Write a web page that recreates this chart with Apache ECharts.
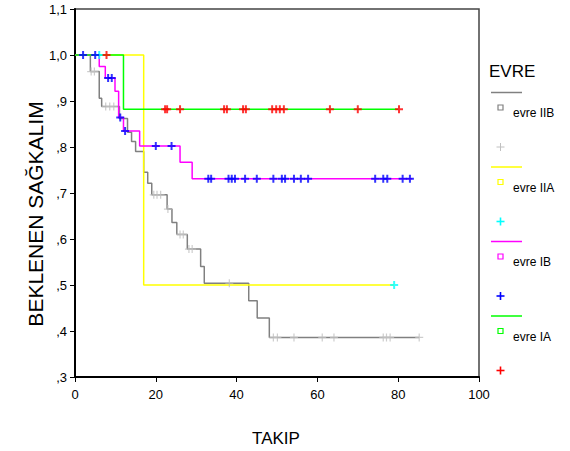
<!DOCTYPE html>
<html>
<head>
<meta charset="utf-8">
<script src="https://cdn.jsdelivr.net/npm/echarts@6/dist/echarts.min.js"></script>
<style>html,body{margin:0;padding:0;background:#fff}#c{width:570px;height:451px}</style>
</head>
<body>
<div id="c"></div>
<script>
// ---- data ----
const xTicks = [0, 20, 40, 60, 80, 100];
const yTicks = [0.3, 0.4, 0.5, 0.6, 0.7, 0.8, 0.9, 1.0, 1.1];
const groups = ['evre IIB', 'evre IIA', 'evre IB', 'evre IA'];

const iibTimes = [0, 3.8, 6, 6.6, 11, 13, 14, 15, 17, 18, 19, 22.8, 24, 25.2, 27.8, 31.1, 32, 43, 45.1, 48.1, 85.2];
const iibSurv  = [1, 0.964, 0.906, 0.888, 0.862, 0.832, 0.812, 0.790, 0.745, 0.721, 0.696, 0.665, 0.636, 0.610, 0.578, 0.540, 0.504, 0.466, 0.428, 0.386, 0.386];
const iibCensT = [4.0, 4.8, 7.6, 8.6, 9.6, 19.5, 20.3, 21.2, 23, 26, 26.8, 28.2, 29, 38.2, 49.1, 50.1, 54.2, 61.2, 64.1, 76.3, 77.1, 78, 85.2];
const iibCensS = [0.964, 0.964, 0.888, 0.888, 0.888, 0.696, 0.696, 0.696, 0.665, 0.610, 0.610, 0.578, 0.578, 0.504, 0.386, 0.386, 0.386, 0.386, 0.386, 0.386, 0.386, 0.386, 0.386];

const iiaTimes = [0, 17, 79];
const iiaSurv  = [1, 0.5, 0.5];
const iiaCensT = [6, 79];
const iiaCensS = [1, 0.5];

const ibTimes = [0, 6, 7.5, 9.9, 10.8, 12, 16, 26, 29, 83.5];
const ibSurv  = [1, 0.975, 0.95, 0.921, 0.864, 0.835, 0.802, 0.767, 0.731, 0.731];
const ibCensT = [2, 5, 8.2, 9.1, 11.2, 12.4, 20, 23.9, 33, 33.7, 38, 38.8, 39.6, 42.1, 45, 49.1, 51.2, 52, 54.2, 55.9, 57.7, 74.3, 76.3, 77.3, 81.1, 82.9];
const ibCensS = [1, 1, 0.95, 0.95, 0.864, 0.835, 0.802, 0.802, 0.731, 0.731, 0.731, 0.731, 0.731, 0.731, 0.731, 0.731, 0.731, 0.731, 0.731, 0.731, 0.731, 0.731, 0.731, 0.731, 0.731, 0.731];

const iaTimes = [0, 12, 80];
const iaSurv  = [1, 0.882, 0.882];
const iaCensT = [7.8, 22.3, 22.8, 26, 36.9, 37.6, 41.6, 42.3, 48.8, 49.8, 50.7, 51.7, 63.1, 70, 80.2];
const iaCensS = [1, 0.882, 0.882, 0.882, 0.882, 0.882, 0.882, 0.882, 0.882, 0.882, 0.882, 0.882, 0.882, 0.882, 0.882];

// ---- styling ----
const lineColors = ['#808080', '#ffff00', '#ff00ff', '#00ff00'];
const censColors = ['#c0c0c0', '#00ffff', '#0000ff', '#ff0000'];
const FONT = '"Liberation Sans", Arial, sans-serif';
const plusPath = 'path://M3,0H5V3H8V5H5V8H3V5H0V3H3Z';
const plusThin = 'path://M3.4,0H4.6V3.4H8V4.6H4.6V8H3.4V4.6H0V3.4H3.4Z';

const zip = (a, b) => a.map((v, i) => [v, b[i]]);
const curves = [[iibTimes, iibSurv], [iiaTimes, iiaSurv], [ibTimes, ibSurv], [iaTimes, iaSurv]];
const cens = [[iibCensT, iibCensS], [iiaCensT, iiaCensS], [ibCensT, ibCensS], [iaCensT, iaCensS]];

const series = [];
curves.forEach((c, i) => {
  series.push({
    type: 'line', step: 'end', symbol: 'none', z: 2 + i,
    data: zip(c[0], c[1]),
    lineStyle: { color: lineColors[i], width: 1.5 },
    animation: false
  });
});
cens.forEach((c, i) => {
  series.push({
    type: 'scatter', z: 10 + i,
    symbol: i === 0 ? plusThin : plusPath, symbolSize: 8,
    data: zip(c[0], c[1]),
    itemStyle: { color: censColors[i] },
    animation: false
  });
});

// legend graphics
const legend = [];
legend.push({ type: 'text', x: 489, y: 71, style: { text: 'EVRE', font: '17px ' + FONT, fill: '#000', textVerticalAlign: 'middle' } });
groups.forEach((g, i) => {
  const y0 = 92.5 + i * 74.5;
  legend.push({ type: 'line', shape: { x1: 491, y1: y0, x2: 522, y2: y0 }, style: { stroke: lineColors[i], lineWidth: 1.5 } });
  legend.push({ type: 'rect', shape: { x: 498, y: y0 + 12.5, width: 5, height: 5 }, style: { fill: 'none', stroke: lineColors[i], lineWidth: 1.2 } });
  legend.push({ type: 'text', x: 513, y: y0 + 20.5, style: { text: g, font: '12px ' + FONT, fill: '#000', textVerticalAlign: 'middle' } });
  const py = y0 + 54.5, px = 500.5;
  const w = i === 0 ? 1 : 1.6;
  legend.push({ type: 'line', shape: { x1: px - 4, y1: py, x2: px + 4, y2: py }, style: { stroke: censColors[i], lineWidth: w } });
  legend.push({ type: 'line', shape: { x1: px, y1: py - 4, x2: px, y2: py + 4 }, style: { stroke: censColors[i], lineWidth: w } });
});
legend.push({ type: 'text', x: 276, y: 438, style: { text: 'TAKIP', font: '17px ' + FONT, fill: '#000', textAlign: 'center', textVerticalAlign: 'middle' } });
legend.push({ type: 'text', x: 35, y: 214, rotation: Math.PI / 2, style: { text: 'BEKLENEN SAĞKALIM', font: '21px ' + FONT, fill: '#000', textAlign: 'center', textVerticalAlign: 'middle' } });

const chart = echarts.init(document.getElementById('c'), null, { renderer: 'svg' });
chart.setOption({
  animation: false,
  backgroundColor: '#fff',
  grid: { left: 75, right: 91, top: 9, bottom: 74, show: true, borderColor: '#444', borderWidth: 1.5 },
  xAxis: {
    type: 'value', min: xTicks[0], max: xTicks[xTicks.length - 1], interval: 20,
    axisLine: { show: true, onZero: false, lineStyle: { color: '#000', width: 2 } },
    axisTick: { show: true, length: 5, lineStyle: { color: '#000', width: 1 } },
    axisLabel: { color: '#000', fontSize: 13, fontFamily: FONT, margin: 11 },
    splitLine: { show: false }
  },
  yAxis: {
    type: 'value', min: yTicks[0], max: yTicks[yTicks.length - 1], interval: 0.1,
    axisLine: { show: true, onZero: false, lineStyle: { color: '#000', width: 2 } },
    axisTick: { show: true, length: 5, lineStyle: { color: '#000', width: 1 } },
    axisLabel: {
      color: '#000', fontSize: 13, fontFamily: FONT, margin: 8,
      formatter: v => {
        const s = (Math.round(v * 10) / 10).toFixed(1).replace('.', ',');
        return s.startsWith('0') ? s.slice(1) : s;
      }
    },
    splitLine: { show: false }
  },
  graphic: legend,
  series: series
});
</script>
</body>
</html>
